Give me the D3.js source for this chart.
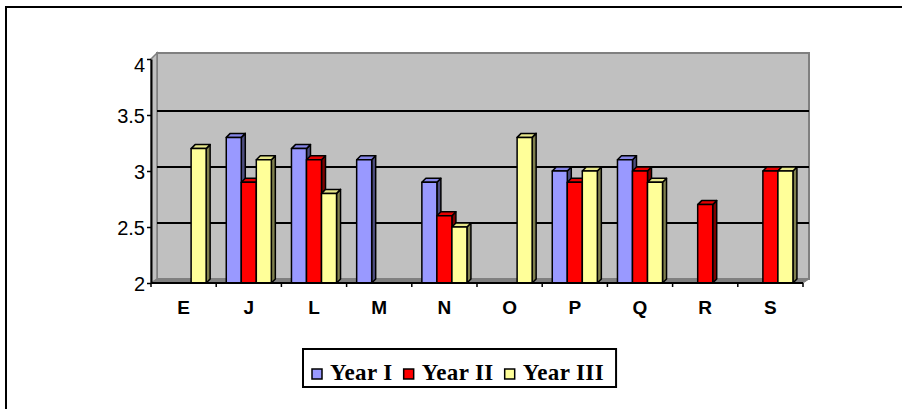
<!DOCTYPE html>
<html>
<head>
<meta charset="utf-8">
<script src="https://cdn.jsdelivr.net/npm/d3@7"></script>
<style>
  html, body { margin: 0; padding: 0; background: #fff; }
  svg { display: block; }
</style>
</head>
<body>
<svg id="chart" width="902" height="409"></svg>
<script>
// Categories and per-year values (null = no bar for that year)
const categories = ["E", "J", "L", "M", "N", "O", "P", "Q", "R", "S"];
const seriesNames = ["Year I", "Year II", "Year III"];
const yearI   = [null, 3.3, 3.2, 3.1, 2.9, null, 3.0, 3.1, null, null];
const yearII  = [null, 2.9, 3.1, null, 2.6, null, 2.9, 3.0, 2.7, 3.0];
const yearIII = [3.2, 3.1, 2.8, null, 2.5, 3.3, 3.0, 2.9, null, 3.0];
const yTicks = [2, 2.5, 3, 3.5, 4];

const seriesValues = [yearI, yearII, yearIII];
const faceColors = [
  { front: "#9999FF", top: "#8585E6", side: "#4D4D80" },
  { front: "#FF0000", top: "#E60000", side: "#800000" },
  { front: "#FFFF99", top: "#E6E68A", side: "#80804D" }
];

const svg = d3.select("#chart");

// Outer chart frame
svg.append("rect")
  .attr("x", 6).attr("y", 7).attr("width", 910).attr("height", 420)
  .attr("fill", "#fff").attr("stroke", "#000").attr("stroke-width", 2);

// Plot geometry (front plane) and 3D wall offset
const x0 = 151, x1 = 803, yBottom = 283, yTop = 59;
const wallDx = 6, wallDy = -4;
const barDx = 4, barDy = -4;

const x = d3.scaleBand().domain(categories).range([x0, x1]).paddingInner(0).paddingOuter(0);
const xs = d3.scaleBand().domain(seriesNames).range([0, x.bandwidth()]).paddingInner(0).paddingOuter(0.67);
const y = d3.scaleLinear().domain([2, 4]).range([yBottom, yTop]);

const pts = p => p.map(q => q.join(",")).join(" ");

// Back wall
const backTop = y(4) + wallDy - 2;
svg.append("rect")
  .attr("x", x0 + wallDx).attr("y", backTop)
  .attr("width", x1 - x0).attr("height", yBottom + wallDy - backTop)
  .attr("fill", "#C0C0C0").attr("stroke", "#808080").attr("stroke-width", 2);

// Left side wall
svg.append("polygon")
  .attr("points", pts([[x0, y(4)], [x0 + wallDx, backTop], [x0 + wallDx, yBottom + wallDy], [x0, yBottom]]))
  .attr("fill", "#C0C0C0").attr("stroke", "#808080").attr("stroke-width", 1.5);

// Floor
svg.append("polygon")
  .attr("points", pts([[x0, yBottom], [x0 + wallDx, yBottom + wallDy], [x1 + wallDx, yBottom + wallDy], [x1, yBottom]]))
  .attr("fill", "#808080").attr("stroke", "#808080").attr("stroke-width", 1);

// Gridlines on back wall
svg.append("g").selectAll("line")
  .data(yTicks.filter(t => t > 2 && t < 4))
  .join("line")
  .attr("x1", x0 + wallDx).attr("x2", x1 + wallDx)
  .attr("y1", d => y(d) + wallDy).attr("y2", d => y(d) + wallDy)
  .attr("stroke", "#000").attr("stroke-width", 2);

// Bars: side face, top face, front face
const barsG = svg.append("g");
categories.forEach((cat, ci) => {
  seriesNames.forEach((s, si) => {
    const v = seriesValues[si][ci];
    if (v == null) return;
    const bx = x(cat) + xs(s), bw = xs.bandwidth();
    const by = y(v);
    const c = faceColors[si];
    const g = barsG.append("g")
      .attr("stroke", "#000").attr("stroke-width", 1.5).attr("stroke-linejoin", "round");
    g.append("polygon")
      .attr("points", pts([[bx + bw, by], [bx + bw + barDx, by + barDy], [bx + bw + barDx, yBottom + barDy], [bx + bw, yBottom]]))
      .attr("fill", c.side);
    g.append("polygon")
      .attr("points", pts([[bx, by], [bx + barDx, by + barDy], [bx + bw + barDx, by + barDy], [bx + bw, by]]))
      .attr("fill", c.top);
    g.append("rect")
      .attr("x", bx).attr("y", by).attr("width", bw).attr("height", yBottom - by)
      .attr("fill", c.front);
  });
});

// Y axis
const yAxis = d3.axisLeft(y).tickValues(yTicks).tickSize(4).tickSizeOuter(0)
  .tickFormat(d => String(d));
const yG = svg.append("g").attr("transform", `translate(${x0},0)`).call(yAxis);
yG.select(".domain").attr("stroke", "#000").attr("stroke-width", 2);
yG.selectAll(".tick line").attr("stroke", "#000").attr("stroke-width", 1.5);
yG.selectAll(".tick text")
  .attr("font-family", "'Liberation Sans', Arial, sans-serif")
  .attr("font-size", 20).attr("fill", "#000")
  .attr("x", -6)
  .attr("dy", d => d === 4 ? "0.62em" : "0.36em");

// X axis: boundary ticks + centered labels
svg.append("line")
  .attr("x1", x0).attr("x2", x1).attr("y1", yBottom).attr("y2", yBottom)
  .attr("stroke", "#000").attr("stroke-width", 2);
const boundaries = categories.map(c => x(c)).concat([x1]);
svg.append("g").selectAll("line")
  .data(boundaries)
  .join("line")
  .attr("x1", d => d).attr("x2", d => d)
  .attr("y1", yBottom).attr("y2", yBottom + 4)
  .attr("stroke", "#000").attr("stroke-width", 1.5);
svg.append("g").selectAll("text")
  .data(categories)
  .join("text")
  .attr("x", d => x(d) + x.bandwidth() / 2)
  .attr("y", 314)
  .attr("text-anchor", "middle")
  .attr("font-family", "'Liberation Sans', Arial, sans-serif")
  .attr("font-weight", "bold").attr("font-size", 19)
  .text(d => d);

// Legend
const legendG = svg.append("g");
const legendBox = legendG.append("rect")
  .attr("y", 349).attr("height", 38)
  .attr("fill", "#fff").attr("stroke", "#000").attr("stroke-width", 2);
let lx = 312;
const legendStart = 303;
seriesNames.forEach((s, si) => {
  legendG.append("rect")
    .attr("x", lx).attr("y", 369).attr("width", 10).attr("height", 10)
    .attr("fill", faceColors[si].front).attr("stroke", "#000").attr("stroke-width", 1.5);
  const t = legendG.append("text")
    .attr("x", lx + 18).attr("y", 380)
    .attr("font-family", "'Liberation Serif', 'Times New Roman', serif")
    .attr("font-weight", "bold").attr("font-size", 23)
    .attr("letter-spacing", "0.4px")
    .text(s);
  lx = lx + 18 + t.node().getComputedTextLength() + 11;
});
legendBox.attr("x", legendStart).attr("width", lx - 11 + 12 - legendStart);
</script>
</body>
</html>
